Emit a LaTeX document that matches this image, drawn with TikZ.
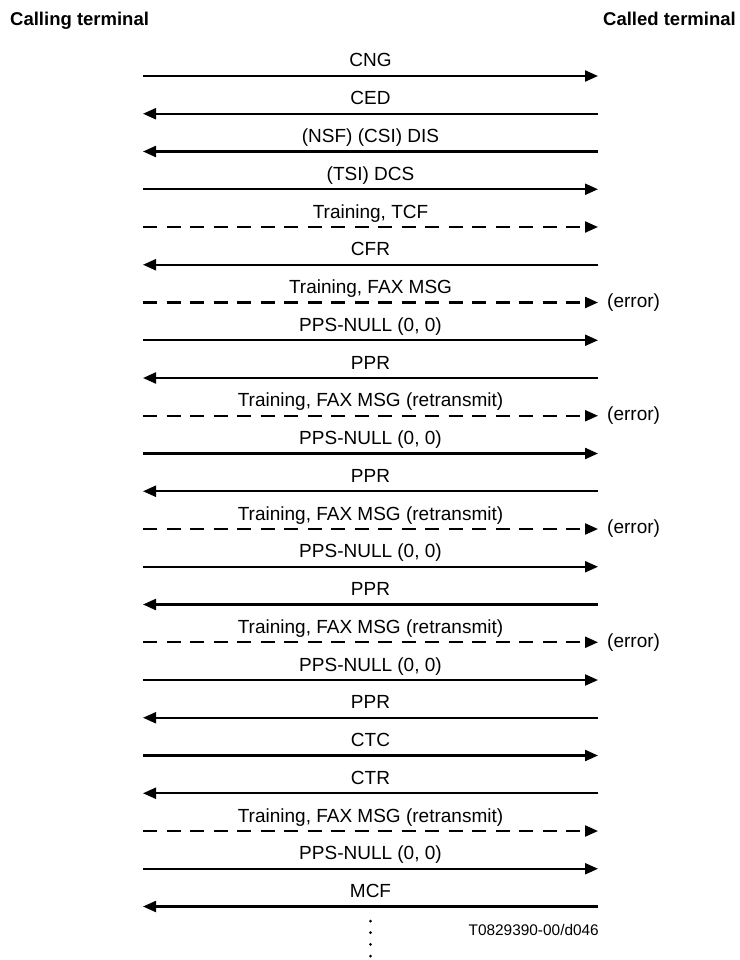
\documentclass[tikz,border=0pt]{standalone}
\usepackage{fontspec}
\setmainfont{Liberation Sans}
\usetikzlibrary{arrows.meta}
\begin{document}
\begin{tikzpicture}[x=1pt,y=-1pt,
  msg/.style={line width=2.2pt, -{Triangle[length=13pt,width=11pt]}},
  dsh/.style={dash pattern=on 14pt off 9.5pt},
  lbl/.style={font=\fontsize{19}{22}\selectfont, anchor=base, inner sep=0pt},
  hdr/.style={font=\fontsize{18.5}{22}\selectfont\bfseries, inner sep=0pt, anchor=base},
  err/.style={font=\fontsize{19}{22}\selectfont, anchor=west, inner sep=0pt},
  dot/.style={circle, fill, inner sep=0pt, minimum size=3pt}]
\useasboundingbox (0,0) rectangle (739,960);
\node[hdr, anchor=base west] (calling) at (10,26) {Calling terminal};
\node[hdr, anchor=base east] (called) at (736,26) {Called terminal};
\foreach \i/\d/\k/\t/\e in {
  0/r/s/{CNG}/0,
  1/l/s/{CED}/0,
  2/l/s/{(NSF) (CSI) DIS}/0,
  3/r/s/{(TSI) DCS}/0,
  4/r/d/{Training, TCF}/0,
  5/l/s/{CFR}/0,
  6/r/d/{Training, FAX MSG}/1,
  7/r/s/{PPS-NULL (0, 0)}/0,
  8/l/s/{PPR}/0,
  9/r/d/{Training, FAX MSG (retransmit)}/1,
  10/r/s/{PPS-NULL (0, 0)}/0,
  11/l/s/{PPR}/0,
  12/r/d/{Training, FAX MSG (retransmit)}/1,
  13/r/s/{PPS-NULL (0, 0)}/0,
  14/l/s/{PPR}/0,
  15/r/d/{Training, FAX MSG (retransmit)}/1,
  16/r/s/{PPS-NULL (0, 0)}/0,
  17/l/s/{PPR}/0,
  18/r/s/{CTC}/0,
  19/l/s/{CTR}/0,
  20/r/d/{Training, FAX MSG (retransmit)}/0,
  21/r/s/{PPS-NULL (0, 0)}/0,
  22/l/s/{MCF}/0}{
  \pgfmathsetmacro{\yy}{76+\i*37.75}
  \coordinate (L\i) at (143,\yy);
  \coordinate (R\i) at (598,\yy);
  \node[lbl] (t\i) at (370.5,\yy-9) {\t};
  \if\d r
    \if\k d
      \draw[msg,dsh] (L\i) -- (R\i);
    \else
      \draw[msg] (L\i) -- (R\i);
    \fi
  \else
    \draw[msg] (R\i) -- (L\i);
  \fi
  \if\e 1
    \node[err] (e\i) at (607,\yy) {(error)};
  \fi
}
\foreach \j in {0,1,2,3}{
  \node[dot] (d\j) at (370.5,{921+\j*11.7}) {};
}
\node[font=\fontsize{15.4}{18}\selectfont, anchor=base east, inner sep=0pt] (fig) at (599,935) {T0829390-00/d046};
\end{tikzpicture}
\end{document}
